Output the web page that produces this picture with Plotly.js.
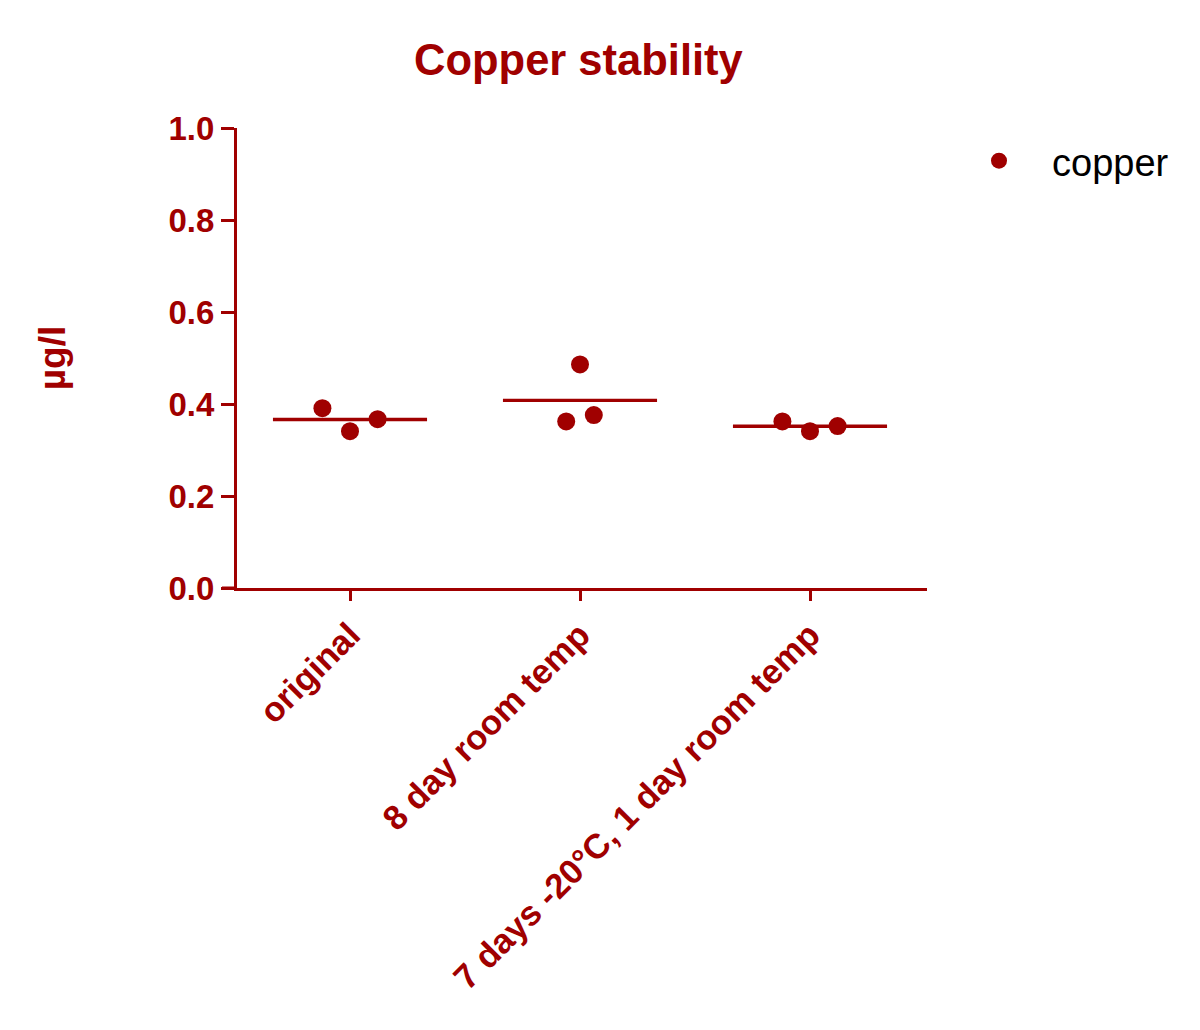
<!DOCTYPE html>
<html>
<head>
<meta charset="utf-8">
<script src="https://cdn.plot.ly/plotly-3.0.1.min.js"></script>
<style>html,body{margin:0;padding:0;background:#fff;}#chart{width:1200px;height:1030px;}</style>
</head>
<body>
<div id="chart"></div>
<script>
// ---- data ----
const categories = ['original', '8 day room temp', '7 days -20°C, 1 day room temp'];
const copperOriginal = [0.391, 0.341, 0.367];
const copper8Day = [0.362, 0.486, 0.376];
const copper7Day = [0.362, 0.341, 0.352];
const seriesName = 'copper';
const yTickVals = [0, 0.2, 0.4, 0.6, 0.8, 1.0];
const yTickText = ['0.0', '0.2', '0.4', '0.6', '0.8', '1.0'];

// ---- style ----
const RED = '#a00000';
const FONT = 'Liberation Sans, Arial, sans-serif';
const spread = [[-0.12, 0, 0.12], [-0.06, 0, 0.06], [-0.12, 0, 0.12]]; // horizontal scatter offsets (category units)
const meanHalfWidth = 0.335;

const groups = [copperOriginal, copper8Day, copper7Day];
const px = [], py = [];
groups.forEach((vals, gi) => {
  vals.forEach((v, i) => { px.push(gi + spread[gi][i]); py.push(v); });
});

const traces = [];
groups.forEach((vals, gi) => {
  const m = vals.reduce((a, b) => a + b, 0) / vals.length;
  traces.push({
    x: [gi - meanHalfWidth, gi + meanHalfWidth], y: [m, m],
    mode: 'lines', type: 'scatter', showlegend: false, hoverinfo: 'skip',
    line: {color: RED, width: 3.3}
  });
});
traces.push({
  x: px, y: py, name: seriesName, mode: 'markers', type: 'scatter',
  marker: {color: RED, size: 18, line: {width: 0}}
});

const layout = {
  width: 1200, height: 1030,
  margin: {l: 237, r: 273, t: 128, b: 442},
  paper_bgcolor: '#fff', plot_bgcolor: '#fff',
  font: {family: FONT, color: RED},
  title: {
    text: 'Copper stability',
    font: {family: FONT, size: 43.5, weight: 'bold', color: RED},
    x: 0.482, xref: 'container', y: 1 - 60 / 1030, yref: 'container', yanchor: 'middle'
  },
  xaxis: {
    range: [-0.4913, 2.5087], tickvals: [0, 1, 2], ticktext: categories,
    tickangle: -45, ticks: 'outside', ticklen: 10, tickwidth: 3, tickcolor: RED,
    showline: true, linecolor: RED, linewidth: 3, showgrid: false, zeroline: false,
    tickfont: {family: FONT, size: 34.5, weight: 'bold', color: RED}
  },
  yaxis: {
    range: [0, 1], tickvals: yTickVals, ticktext: yTickText,
    ticks: 'outside', ticklen: 13, tickwidth: 3, tickcolor: RED,
    showline: true, linecolor: RED, linewidth: 3, showgrid: false, zeroline: false,
    tickfont: {family: FONT, size: 33, weight: 'bold', color: RED},
    title: {text: 'µg/l', font: {family: FONT, size: 37, weight: 'bold', color: RED}, standoff: 92}
  },
  legend: {
    x: 946 / 1200, xref: 'container', xanchor: 'left',
    y: 1 - 161 / 1030, yref: 'container', yanchor: 'middle',
    itemwidth: 96,
    font: {family: FONT, size: 38, color: '#000'},
    bgcolor: 'rgba(0,0,0,0)'
  },
  shapes: [{
    type: 'line', xref: 'paper', yref: 'y',
    x0: -15 / 690, x1: 0, y0: 0, y1: 0,
    line: {color: RED, width: 3}
  }],
  showlegend: true
};

Plotly.newPlot('chart', traces, layout, {displayModeBar: false, staticPlot: true});
</script>
</body>
</html>
